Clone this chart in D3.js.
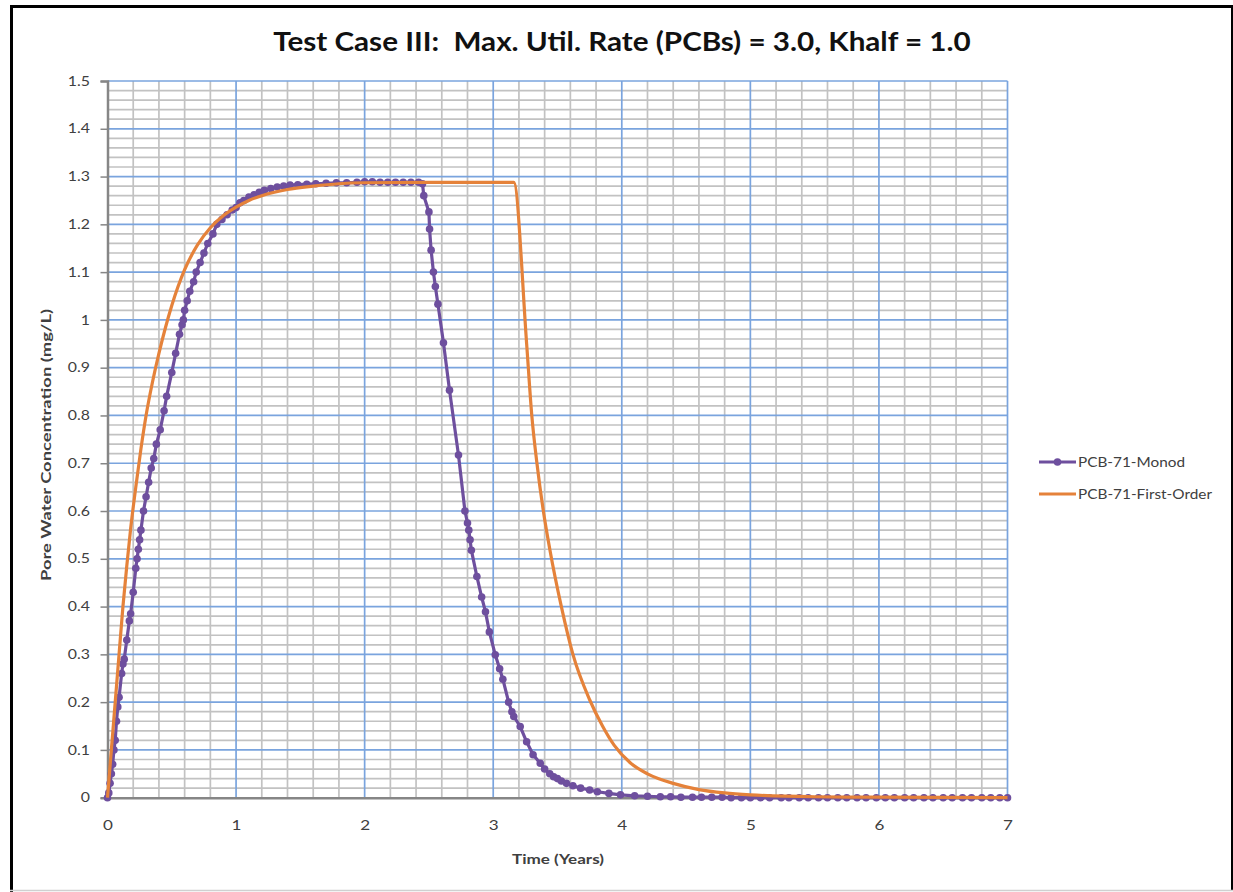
<!DOCTYPE html>
<html>
<head>
<meta charset="utf-8">
<script src="https://cdn.jsdelivr.net/npm/d3@7"></script>
<style>
  html, body { margin: 0; padding: 0; background: #fff; }
  svg { display: block; }
</style>
</head>
<body>
<svg id="chart" width="1233" height="892"></svg>
<script>
// Pore water concentration over time for two biodegradation formulations.
const chartTitle = "Test Case III:  Max. Util. Rate (PCBs) = 3.0, Khalf = 1.0";
const xTitle = "Time (Years)";
const yTitle = "Pore Water Concentration (mg/L)";
const seriesNames = ["PCB-71-Monod", "PCB-71-First-Order"];

const xTicks = [0, 1, 2, 3, 4, 5, 6, 7];
const yTicks = [0, 0.1, 0.2, 0.3, 0.4, 0.5, 0.6, 0.7, 0.8, 0.9, 1, 1.1, 1.2, 1.3, 1.4, 1.5];
const yTickLabels = ["0", "0.1", "0.2", "0.3", "0.4", "0.5", "0.6", "0.7", "0.8", "0.9", "1", "1.1", "1.2", "1.3", "1.4", "1.5"];

// Monod series: time (years) and concentration (mg/L)
const monodTime = [
  0, 0.01, 0.02, 0.03, 0.04, 0.05, 0.06, 0.07, 0.08, 0.09, 0.11, 0.12, 0.13, 0.15, 0.17, 0.18,
  0.2, 0.22, 0.23, 0.24, 0.25, 0.26, 0.28, 0.3, 0.32, 0.34, 0.36, 0.38, 0.41, 0.44, 0.46, 0.5,
  0.53, 0.56, 0.58, 0.59, 0.6, 0.62, 0.64, 0.67, 0.69, 0.72, 0.75, 0.78, 0.82, 0.85, 0.89, 0.93,
  0.97, 1.0, 1.03, 1.06, 1.1, 1.14, 1.18, 1.22, 1.27, 1.32, 1.37, 1.42, 1.48, 1.55, 1.62, 1.7,
  1.78, 1.86, 1.94, 2.0, 2.06, 2.12, 2.18, 2.24, 2.3, 2.36, 2.42, 2.45, 2.46, 2.5, 2.505, 2.517,
  2.535, 2.55, 2.57, 2.613, 2.66, 2.73, 2.78, 2.8, 2.81, 2.82, 2.83, 2.873, 2.91, 2.94, 2.97, 3.016,
  3.05, 3.075, 3.12, 3.145, 3.16, 3.21, 3.26, 3.31, 3.366, 3.4, 3.44, 3.47, 3.5, 3.53, 3.57, 3.62,
  3.68, 3.75, 3.81, 3.9, 3.99, 4.1, 4.2, 4.3, 4.38, 4.46, 4.55, 4.62, 4.7, 4.78, 4.85, 4.93,
  5.0, 5.08, 5.15, 5.24, 5.3, 5.38, 5.45, 5.53, 5.6, 5.68, 5.75, 5.83, 5.9, 5.98, 6.05, 6.12,
  6.2, 6.27, 6.35, 6.42, 6.5, 6.57, 6.65, 6.72, 6.8, 6.87, 6.94, 7.0
];
const monodConc = [
  0, 0.01, 0.03, 0.05, 0.07, 0.1, 0.12, 0.16, 0.19, 0.21, 0.26, 0.28, 0.29, 0.33, 0.37, 0.385,
  0.43, 0.48, 0.5, 0.52, 0.54, 0.56, 0.6, 0.63, 0.66, 0.69, 0.71, 0.74, 0.77, 0.81, 0.84, 0.89,
  0.93, 0.97, 0.99, 1.0, 1.02, 1.04, 1.06, 1.08, 1.1, 1.12, 1.14, 1.16, 1.18, 1.2, 1.21, 1.22,
  1.23, 1.235, 1.245, 1.25, 1.257, 1.262, 1.267, 1.271, 1.275, 1.278, 1.28, 1.282, 1.283, 1.284, 1.285, 1.286,
  1.287, 1.287, 1.288, 1.289, 1.289, 1.288, 1.288, 1.288, 1.288, 1.288, 1.288, 1.285, 1.26, 1.226, 1.19, 1.146,
  1.1, 1.07, 1.033, 0.952, 0.853, 0.717, 0.6, 0.575, 0.56, 0.54, 0.518, 0.463, 0.42, 0.389, 0.347, 0.299,
  0.27, 0.248, 0.2, 0.18, 0.17, 0.149, 0.117, 0.09, 0.072, 0.06, 0.05, 0.044, 0.04, 0.035, 0.03, 0.025,
  0.02, 0.016, 0.0125, 0.009, 0.006, 0.004, 0.003, 0.002, 0.002, 0.001, 0.001, 0.001, 0.001, 0.001, 0, 0,
  0, 0, 0, 0, 0, 0, 0, 0, 0, 0, 0, 0, 0, 0, 0, 0,
  0, 0, 0, 0, 0, 0, 0, 0, 0, 0, 0, 0
];

// First-order series: time (years) and concentration (mg/L)
const firstOrderTime = [
  0, 0.03, 0.06, 0.09, 0.12, 0.15, 0.18, 0.22, 0.26, 0.3, 0.35, 0.4, 0.45, 0.5, 0.6, 0.7,
  0.8, 0.9, 1.0, 1.1, 1.2, 1.4, 1.6, 1.8, 2.0, 2.5, 3.0, 3.16, 3.26, 3.3, 3.34, 3.39,
  3.44, 3.53, 3.62, 3.75, 3.85, 3.94, 4.07, 4.2, 4.4, 4.6, 4.8, 5.0, 5.5, 6.0, 7.0
];
const firstOrderConc = [
  0, 0.1, 0.2, 0.3, 0.4, 0.485, 0.563, 0.65, 0.73, 0.8, 0.87, 0.93, 0.983, 1.03, 1.105, 1.157,
  1.193, 1.218, 1.236, 1.25, 1.26, 1.273, 1.28, 1.285, 1.287, 1.288, 1.288, 1.288, 0.95, 0.8, 0.7, 0.6,
  0.52, 0.4, 0.3, 0.205, 0.15, 0.11, 0.072, 0.05, 0.03, 0.017, 0.01, 0.006, 0.002, 0.001, 0
];

const monodColor = "#6e4f9e";
const firstOrderColor = "#e5823a";
const textColor = "#404040";
const font = "Lato, 'Open Sans', sans-serif";

const svg = d3.select("#chart");
const plot = { left: 107.5, right: 1007.5, top: 81, bottom: 797.7 };

const x = d3.scaleLinear().domain([0, 7]).range([plot.left, plot.right]);
const y = d3.scaleLinear().domain([0, 1.5]).range([plot.bottom, plot.top]);

// outer frame
svg.append("line").attr("x1", 11.5).attr("x2", 11.5).attr("y1", 5).attr("y2", 892)
  .attr("stroke", "#000").attr("stroke-width", 3);
svg.append("line").attr("x1", 10).attr("x2", 1233).attr("y1", 6.5).attr("y2", 6.5)
  .attr("stroke", "#000").attr("stroke-width", 3);
svg.append("line").attr("x1", 1232).attr("x2", 1232).attr("y1", 5).attr("y2", 890)
  .attr("stroke", "#000").attr("stroke-width", 2);
svg.append("line").attr("x1", 10).attr("x2", 1233).attr("y1", 890.5).attr("y2", 890.5)
  .attr("stroke", "#d0d0d0").attr("stroke-width", 1.5);

const grid = svg.append("g");
// minor gridlines
const minorX = d3.range(0, 7.0001, 0.2).filter(v => Math.abs(v - Math.round(v)) > 1e-6);
const minorY = d3.range(0, 1.50001, 0.02).filter(v => Math.abs(v * 10 - Math.round(v * 10)) > 1e-6);
grid.selectAll(".mx").data(minorX).join("line")
  .attr("x1", d => x(d)).attr("x2", d => x(d)).attr("y1", plot.top).attr("y2", plot.bottom)
  .attr("stroke", "#c2c2c2").attr("stroke-width", 1.7);
grid.selectAll(".my").data(minorY).join("line")
  .attr("x1", plot.left).attr("x2", plot.right).attr("y1", d => y(d)).attr("y2", d => y(d))
  .attr("stroke", "#c2c2c2").attr("stroke-width", 1.7);
// major gridlines
grid.selectAll(".Mx").data(xTicks.filter(d => d > 0)).join("line")
  .attr("x1", d => x(d)).attr("x2", d => x(d)).attr("y1", plot.top).attr("y2", plot.bottom)
  .attr("stroke", "#7aa4de").attr("stroke-width", 1.7);
grid.selectAll(".My").data(yTicks.filter(d => d > 0)).join("line")
  .attr("x1", plot.left).attr("x2", plot.right).attr("y1", d => y(d)).attr("y2", d => y(d))
  .attr("stroke", "#7aa4de").attr("stroke-width", 1.7);

// axes (labels are drawn slightly widened, as in the source chart)
const stretch = 1.22;
const yAxis = d3.axisLeft(y).tickValues(yTicks).tickSize(7).tickPadding(10)
  .tickFormat((d, i) => yTickLabels[i]);
const gy = svg.append("g").attr("transform", `translate(${plot.left},0)`).call(yAxis);
gy.select(".domain").attr("stroke", "#868686").attr("stroke-width", 2.5);
gy.selectAll(".tick line").attr("stroke", "#868686").attr("stroke-width", 1.5);
gy.selectAll(".tick text").attr("fill", textColor).attr("font-family", font)
  .attr("font-size", 13).attr("x", -17.5 / stretch).attr("transform", `scale(${stretch},1)`);

const xAxis = d3.axisBottom(x).tickValues(xTicks).tickSize(0).tickPadding(22).tickFormat(d3.format("d"));
const gx = svg.append("g").attr("transform", `translate(0,${plot.bottom})`).call(xAxis);
gx.select(".domain").attr("stroke", "#868686").attr("stroke-width", 2.5);
gx.selectAll(".tick text").attr("fill", textColor).attr("font-family", font)
  .attr("font-size", 14).attr("transform", `scale(${stretch},1)`);

// series
const monod = monodTime.map((t, i) => [t, monodConc[i]]);
const firstOrder = firstOrderTime.map((t, i) => [t, firstOrderConc[i]]);
const line = d3.line().x(d => x(d[0])).y(d => y(d[1]));

svg.append("path").datum(monod).attr("d", line)
  .attr("fill", "none").attr("stroke", monodColor).attr("stroke-width", 3.2).attr("stroke-linejoin", "round");
svg.append("g").selectAll("circle").data(monod).join("circle")
  .attr("cx", d => x(d[0])).attr("cy", d => y(d[1])).attr("r", 3.8).attr("fill", monodColor);

svg.append("path").datum(firstOrder).attr("d", d3.line().curve(d3.curveMonotoneX).x(d => x(d[0])).y(d => y(d[1])))
  .attr("fill", "none").attr("stroke", firstOrderColor).attr("stroke-width", 3.2).attr("stroke-linejoin", "round");

// titles
svg.append("text").attr("transform", "translate(622,51) scale(1.14,1)").attr("text-anchor", "middle")
  .attr("font-family", font).attr("font-weight", "bold").attr("font-size", 26)
  .attr("fill", "#111").attr("xml:space", "preserve").style("white-space", "pre").text(chartTitle);
svg.append("text").attr("x", 558).attr("y", 864).attr("text-anchor", "middle")
  .attr("font-family", font).attr("font-weight", "bold").attr("font-size", 14)
  .attr("textLength", 92).attr("lengthAdjust", "spacingAndGlyphs")
  .attr("fill", textColor).text(xTitle);
svg.append("text").attr("transform", "translate(51,445) rotate(-90)").attr("text-anchor", "middle")
  .attr("font-family", font).attr("font-weight", "bold").attr("font-size", 14)
  .attr("textLength", 272).attr("lengthAdjust", "spacingAndGlyphs")
  .attr("fill", textColor).text(yTitle);

// legend
const legend = svg.append("g").attr("transform", "translate(1039,0)");
const legendRows = [
  { name: seriesNames[0], color: monodColor, marker: true, y: 462, len: 107 },
  { name: seriesNames[1], color: firstOrderColor, marker: false, y: 494, len: 134 }
];
legendRows.forEach(r => {
  legend.append("line").attr("x1", 0).attr("x2", 37).attr("y1", r.y).attr("y2", r.y)
    .attr("stroke", r.color).attr("stroke-width", 3);
  if (r.marker) legend.append("circle").attr("cx", 18.5).attr("cy", r.y).attr("r", 3.8).attr("fill", r.color);
  legend.append("text").attr("x", 39).attr("y", r.y + 5)
    .attr("font-family", font).attr("font-size", 13.5)
    .attr("textLength", r.len).attr("lengthAdjust", "spacingAndGlyphs")
    .attr("fill", textColor).text(r.name);
});
</script>
</body>
</html>
